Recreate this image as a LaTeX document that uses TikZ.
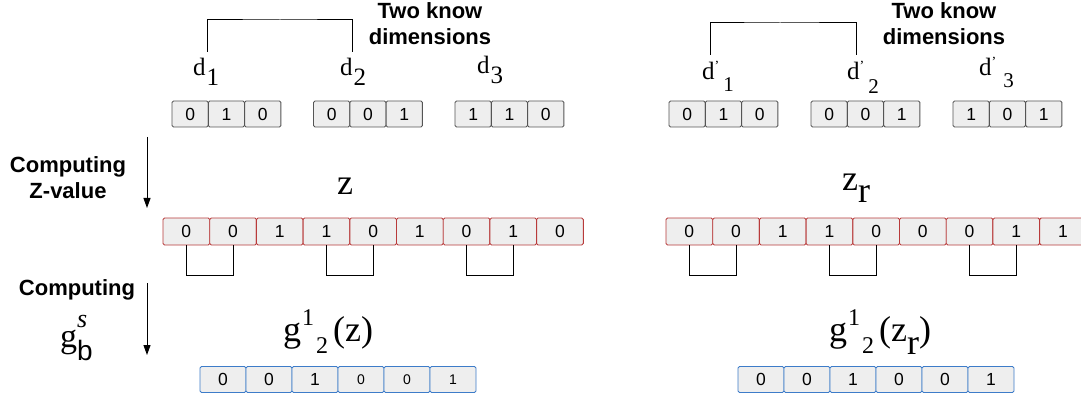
\documentclass[tikz,border=0pt]{standalone}
\usepackage{fontspec}
\setmainfont{Liberation Serif}
\newfontfamily\helv{Liberation Sans}
\usetikzlibrary{arrows.meta}

\definecolor{cellfill}{HTML}{EEEEEE}
\definecolor{cellgray}{HTML}{555555}
\definecolor{cellred}{HTML}{B83A3A}
\definecolor{cellblue}{HTML}{3D7CC9}
\newcommand{\fs}[1]{\fontsize{#1}{#1}\selectfont}

\begin{document}
\begin{tikzpicture}[x=1pt,y=-1pt,
    cell/.style={draw,fill=cellfill,rounded corners=1.5pt,inner sep=0pt,line width=0.9pt,font=\helv\fs{17.5}},
    gcell/.style={cell,draw=cellgray,minimum width=36.3pt,minimum height=26pt},
    rcell/.style={cell,draw=cellred,minimum width=46.7pt,minimum height=27pt},
    bcell/.style={cell,draw=cellblue,minimum width=46pt,minimum height=26pt},
    dlab/.style={inner sep=0pt,outer ysep=7pt,anchor=base west,font=\fs{25}},
    biglab/.style={inner sep=0pt,anchor=base west,font=\fs{36}},
    note/.style={align=center,inner sep=0pt,font=\helv\bfseries\fontsize{22}{26}\selectfont},
    down/.style={-{Triangle[length=10pt,width=7pt]},line width=1pt}]
    \useasboundingbox (0,0) rectangle (1081,398);

    % Dimensions (gauche)
    \node[dlab] (d1) at (193,76) {d\kern1pt\raisebox{-10pt}{1}};
    \node[dlab] (d2) at (340,76) {d\kern1pt\raisebox{-10pt}{2}};
    \node[dlab] (d3) at (477,74) {d\kern1pt\raisebox{-10pt}{3}};
    \coordinate (tl) at (280,20);
    \draw[line width=1pt] ([xshift=1pt]d1.north) |- (tl) -| ([xshift=-1pt]d2.north);
    \node[note] (tk1) at (430,24) {Two know\\dimensions};

    % Dimensions (droite)
    \node[dlab] (dp1) at (702,80) {d\raisebox{9pt}{\fs{14}’}\kern4pt\raisebox{-12pt}{\fs{21}1}};
    \node[dlab] (dp2) at (847,80) {d\raisebox{9pt}{\fs{14}’}\kern4pt\raisebox{-14pt}{\fs{21}2}};
    \node[dlab] (dp3) at (979,76) {d\raisebox{9pt}{\fs{14}’}\kern7pt\raisebox{-12pt}{\fs{21}3}};
    \coordinate (tr) at (780,23);
    \draw[line width=1pt] ([xshift=-8pt]dp1.north) |- (tr) -| ([xshift=-7pt]dp2.north);
    \node[note] (tk2) at (944,24) {Two know\\dimensions};

    % Bits de chaque dimension
    \foreach \v [count=\i] in {0,1,0} \node[gcell] (ua\i) at ({172+36.3*(\i-0.5)},114) {\v};
    \foreach \v [count=\i] in {0,0,1} \node[gcell] (ub\i) at ({313.5+36.3*(\i-0.5)},114) {\v};
    \foreach \v [count=\i] in {1,1,0} \node[gcell] (uc\i) at ({455+36.3*(\i-0.5)},114) {\v};
    \foreach \v [count=\i] in {0,1,0} \node[gcell] (va\i) at ({669+36.3*(\i-0.5)},114) {\v};
    \foreach \v [count=\i] in {0,0,1} \node[gcell] (vb\i) at ({811+36.3*(\i-0.5)},114) {\v};
    \foreach \v [count=\i] in {1,0,1} \node[gcell] (vc\i) at ({953+36.3*(\i-0.5)},114) {\v};

    % Etapes a gauche
    \coordinate (s1) at (147,137);
    \coordinate (e1) at (147,208);
    \draw[down] (s1) -- (e1);
    \node[note] (cz) at (68,178) {Computing\\Z-value};
    \coordinate (s2) at (147,283);
    \coordinate (e2) at (147,355);
    \draw[down] (s2) -- (e2);
    \node[note] (cg) at (77,290) {Computing};
    \node[inner sep=0pt,anchor=base west,font=\fs{34}] (gbs) at (60,347)
        {g\rlap{\raisebox{20pt}{\itshape\fs{26}s}}\raisebox{-13pt}{\helv\fs{28}b}};

    % Valeur Z
    \node[biglab] (zl) at (337,194) {z};
    \node[biglab] (zr) at (842,191) {z\raisebox{-12pt}{r}};
    \foreach \v [count=\i] in {0,0,1,1,0,1,0,1,0} \node[rcell] (zl\i) at ({163+46.7*(\i-0.5)},231.5) {\v};
    \foreach \v [count=\i] in {0,0,1,1,0,0,0,1,1} \node[rcell] (zr\i) at ({666+46.7*(\i-0.5)},231.5) {\v};

    % Paires de bits
    \draw[line width=1pt] (zl1.south) -- ++(0,30) -| (zl2.south);
    \draw[line width=1pt] (zl4.south) -- ++(0,30) -| (zl5.south);
    \draw[line width=1pt] (zl7.south) -- ++(0,30) -| (zl8.south);
    \draw[line width=1pt] (zr1.south) -- ++(0,30) -| (zr2.south);
    \draw[line width=1pt] (zr4.south) -- ++(0,30) -| (zr5.south);
    \draw[line width=1pt] (zr7.south) -- ++(0,30) -| (zr8.south);

    % Resultat g
    \node[biglab] (gl) at (283,341) {g\kern1pt\raisebox{16pt}{\fs{24}1}\kern2pt\raisebox{-12pt}{\fs{24}2}\kern5pt(z)};
    \node[biglab] (gr) at (829,341) {g\kern1pt\raisebox{16pt}{\fs{24}1}\kern2pt\raisebox{-12pt}{\fs{24}2}\kern5pt(z\raisebox{-13pt}{r})};
    \foreach \v/\f [count=\i] in {0/17.5,0/17.5,1/17.5,0/14,0/14,1/14} \node[bcell,font=\helv\fs{\f}] (gl\i) at ({200+46*(\i-0.5)},379.5) {\v};
    \foreach \v [count=\i] in {0,0,1,0,0,1} \node[bcell] (gr\i) at ({738+46*(\i-0.5)},379.5) {\v};
\end{tikzpicture}
\end{document}
